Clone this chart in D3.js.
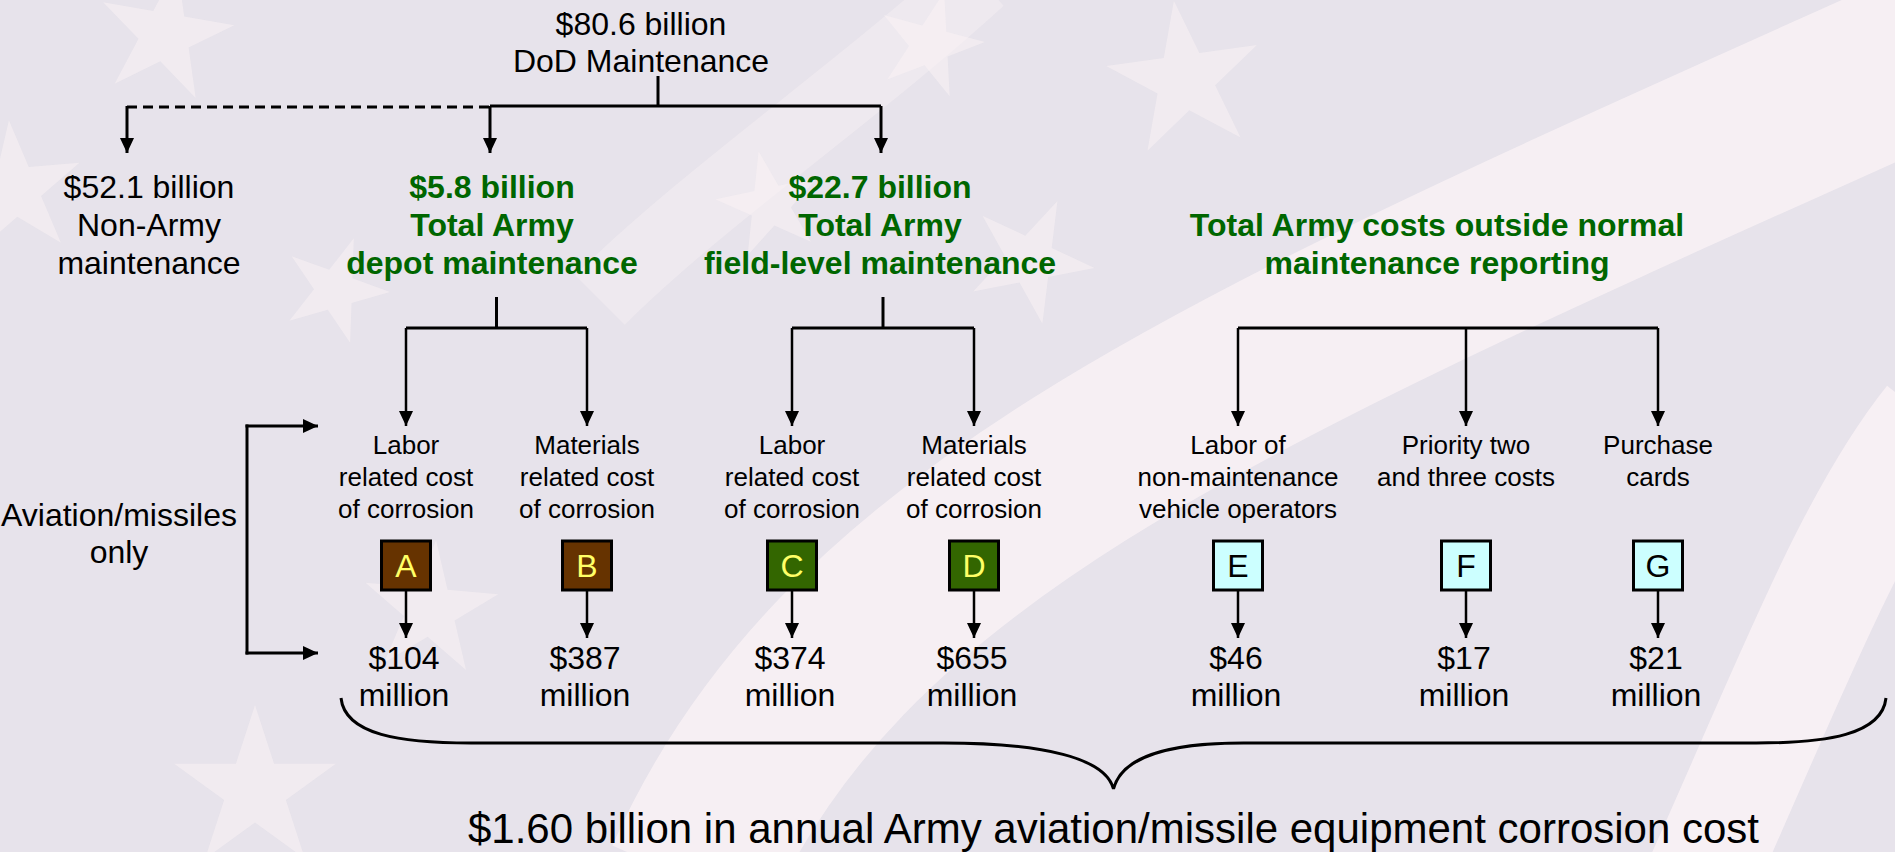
<!DOCTYPE html>
<html>
<head>
<meta charset="utf-8">
<script src="https://cdn.jsdelivr.net/npm/d3@7"></script>
<style>
  html, body { margin: 0; padding: 0; background: #e7e3eb; }
  svg { display: block; font-family: Arial, "Liberation Sans", sans-serif; }
</style>
</head>
<body>
<div id="chart"></div>
<script>
(function(){
  var width = 1895;
  var height = 852;

  // top of the tree
  var dodLines = ["$80.6 billion", "DoD Maintenance"];

  // first split
  var groupKeys = ["nonArmy", "depot", "field", "outside"];
  var groupLines = [
    ["$52.1 billion", "Non-Army", "maintenance"],
    ["$5.8 billion", "Total Army", "depot maintenance"],
    ["$22.7 billion", "Total Army", "field-level maintenance"],
    ["", "Total Army costs outside normal", "maintenance reporting"]
  ];

  // corrosion cost items
  var costCodes = ["A", "B", "C", "D", "E", "F", "G"];
  var costGroup = ["depot", "depot", "field", "field", "outside", "outside", "outside"];
  var costLabels = [
    ["Labor", "related cost", "of corrosion"],
    ["Materials", "related cost", "of corrosion"],
    ["Labor", "related cost", "of corrosion"],
    ["Materials", "related cost", "of corrosion"],
    ["Labor of", "non-maintenance", "vehicle operators"],
    ["Priority two", "and three costs"],
    ["Purchase", "cards"]
  ];
  var costMillions = [104, 387, 374, 655, 46, 17, 21];
  var sideNote = ["Aviation/missiles", "only"];

  var items = costCodes.map(function(c, i) {
    return {code: c, group: costGroup[i], label: costLabels[i], value: costMillions[i]};
  });

  // layout
  var xGroupArrow = d3.scaleOrdinal().domain(groupKeys).range([127, 490, 881, 1437]);
  var xGroupText = d3.scaleOrdinal().domain(groupKeys).range([149, 492, 880, 1437]);
  var xCost = d3.scaleOrdinal().domain(costCodes).range([406, 587, 792, 974, 1238, 1466, 1658]);
  var boxFill = d3.scaleOrdinal().domain(["depot", "field", "outside"]).range(["#663300", "#336600", "#ccffff"]);
  var boxInk = d3.scaleOrdinal().domain(["depot", "field", "outside"]).range(["#ffff66", "#ffff66", "#000000"]);
  var green = "#006600";

  var svg = d3.select("#chart")
    .append("svg")
    .attr("width", width)
    .attr("height", height);

  var defs = svg.append("defs");
  defs.append("marker")
    .attr("id", "arrow")
    .attr("viewBox", "0 0 15 14")
    .attr("refX", 15)
    .attr("refY", 7)
    .attr("markerWidth", 15)
    .attr("markerHeight", 14)
    .attr("markerUnits", "userSpaceOnUse")
    .attr("orient", "auto")
    .append("path")
    .attr("d", "M0,0L15,7L0,14Z")
    .attr("fill", "#000");

  // background: faded flag
  var bg = svg.append("g");
  bg.append("rect").attr("width", width).attr("height", height).attr("fill", "#e7e3eb");

  var band = function(pts, w, op) {
    var p = d3.path();
    p.moveTo(pts[0][0], pts[0][1]);
    p.bezierCurveTo(pts[1][0], pts[1][1], pts[2][0], pts[2][1], pts[3][0], pts[3][1]);
    bg.append("path").attr("d", p.toString())
      .attr("fill", "none")
      .attr("stroke", "#fbf3f6")
      .attr("stroke-width", w)
      .attr("opacity", op);
  };
  band([[690, 880], [850, 520], [1250, 360], [1960, 40]], 170, 0.75);
  band([[1700, 880], [1790, 680], [1850, 520], [1930, 420]], 110, 0.8);
  band([[600, 300], [700, 200], [860, 90], [980, -20]], 70, 0.4);

  var stars = [[165, 35, 70, 10], [15, 190, 70, -5], [335, 290, 55, 20], [430, 610, 70, 5],
               [255, 790, 85, 0], [1185, 80, 80, -8], [930, 45, 55, 15], [770, 205, 55, -12],
               [1030, 260, 65, 25]];
  bg.selectAll("path.star")
    .data(stars)
    .enter().append("path")
    .attr("class", "star")
    .attr("d", function(d) { return d3.symbol(d3.symbolStar, d[2] * d[2] / 0.8908)(); })
    .attr("transform", function(d) { return "translate(" + d[0] + "," + d[1] + ") rotate(" + d[3] + ")"; })
    .attr("fill", "#fbf3f6")
    .attr("opacity", 0.5);

  var ink = svg.append("g");

  var line = function(x1, y1, x2, y2, w, arrow, dash) {
    var l = ink.append("line")
      .attr("x1", x1).attr("y1", y1).attr("x2", x2).attr("y2", y2)
      .attr("stroke", "#000")
      .attr("stroke-width", w);
    if (arrow) l.attr("marker-end", "url(#arrow)");
    if (dash) l.attr("stroke-dasharray", dash);
    return l;
  };

  // DoD label
  ink.selectAll("text.dod")
    .data(dodLines)
    .enter().append("text")
    .attr("class", "dod")
    .attr("x", 641)
    .attr("y", function(d, i) { return 35 + i * 37; })
    .attr("text-anchor", "middle")
    .attr("font-size", 32)
    .attr("fill", "#000")
    .text(function(d) { return d; });

  // first split
  line(658, 76, 658, 106, 3);
  line(xGroupArrow("depot"), 106, xGroupArrow("field"), 106, 3);
  line(xGroupArrow("nonArmy"), 107, xGroupArrow("depot"), 107, 3, false, "10,6");
  ["nonArmy", "depot", "field"].forEach(function(k) {
    line(xGroupArrow(k), 106, xGroupArrow(k), 153, 3, true);
  });

  var groups = groupKeys.map(function(k, i) { return {key: k, lines: groupLines[i]}; });
  var gText = ink.selectAll("g.grp")
    .data(groups)
    .enter().append("g")
    .attr("class", "grp");
  gText.selectAll("text")
    .data(function(d) { return d.lines.map(function(t) { return {key: d.key, t: t}; }); })
    .enter().append("text")
    .attr("x", function(d) { return xGroupText(d.key); })
    .attr("y", function(d, i) { return 198 + i * 38; })
    .attr("text-anchor", "middle")
    .attr("font-size", 32)
    .attr("font-weight", function(d) { return d.key === "nonArmy" ? "normal" : "bold"; })
    .attr("fill", function(d) { return d.key === "nonArmy" ? "#000" : green; })
    .text(function(d) { return d.t; });

  // second split
  ["depot", "field", "outside"].forEach(function(k) {
    var xs = items.filter(function(d) { return d.group === k; }).map(function(d) { return xCost(d.code); });
    var x0 = d3.min(xs), x1 = d3.max(xs);
    if (k !== "outside") line(d3.mean([x0, x1]), 297, d3.mean([x0, x1]), 328, 3);
    line(x0, 328, x1, 328, 3);
    xs.forEach(function(x) { line(x, 328, x, 426, 2.5, true); });
  });

  // cost items
  var item = ink.selectAll("g.item")
    .data(items)
    .enter().append("g")
    .attr("class", "item")
    .attr("transform", function(d) { return "translate(" + xCost(d.code) + ",0)"; });

  item.selectAll("text.lab")
    .data(function(d) { return d.label; })
    .enter().append("text")
    .attr("class", "lab")
    .attr("x", 0)
    .attr("y", function(d, i) { return 454 + i * 32; })
    .attr("text-anchor", "middle")
    .attr("font-size", 26)
    .attr("fill", "#000")
    .text(function(d) { return d; });

  item.append("rect")
    .attr("x", -24.5)
    .attr("y", 541)
    .attr("width", 49)
    .attr("height", 49)
    .attr("fill", function(d) { return boxFill(d.group); })
    .attr("stroke", "#000")
    .attr("stroke-width", 3);

  item.append("text")
    .attr("x", 0)
    .attr("y", 577)
    .attr("text-anchor", "middle")
    .attr("font-size", 32)
    .attr("fill", function(d) { return boxInk(d.group); })
    .text(function(d) { return d.code; });

  item.append("line")
    .attr("x1", 0).attr("y1", 591).attr("x2", 0).attr("y2", 638)
    .attr("stroke", "#000")
    .attr("stroke-width", 2.5)
    .attr("marker-end", "url(#arrow)");

  item.selectAll("text.val")
    .data(function(d) { return ["$" + d.value, "million"]; })
    .enter().append("text")
    .attr("class", "val")
    .attr("x", -2)
    .attr("y", function(d, i) { return 669 + i * 37; })
    .attr("text-anchor", "middle")
    .attr("font-size", 32)
    .attr("fill", "#000")
    .text(function(d) { return d; });

  // aviation/missiles bracket
  ink.selectAll("text.side")
    .data(sideNote)
    .enter().append("text")
    .attr("class", "side")
    .attr("x", 119)
    .attr("y", function(d, i) { return 526 + i * 37; })
    .attr("text-anchor", "middle")
    .attr("font-size", 32)
    .attr("fill", "#000")
    .text(function(d) { return d; });
  line(247, 424.5, 247, 654.5, 3);
  line(245.5, 426, 318, 426, 3, true);
  line(245.5, 653, 318, 653, 3, true);

  // brace under all items
  var bx0 = xCost("A") - 65, bx1 = xCost("G") + 228, cx = (bx0 + bx1) / 2;
  var p = d3.path();
  p.moveTo(bx0, 698);
  p.bezierCurveTo(bx0 + 4, 735, bx0 + 60, 743, bx0 + 130, 743);
  p.lineTo(cx - 170, 743);
  p.bezierCurveTo(cx - 70, 743, cx - 8, 758, cx, 789);
  p.bezierCurveTo(cx + 8, 758, cx + 50, 743, cx + 130, 743);
  p.lineTo(bx1 - 130, 743);
  p.bezierCurveTo(bx1 - 60, 743, bx1 - 4, 735, bx1, 698);
  ink.append("path")
    .attr("d", p.toString())
    .attr("fill", "none")
    .attr("stroke", "#000")
    .attr("stroke-width", 3);

  var total = d3.sum(costMillions) / 1000;
  ink.append("text")
    .attr("x", cx)
    .attr("y", 843)
    .attr("text-anchor", "middle")
    .attr("font-size", 42)
    .attr("fill", "#000")
    .text("$" + d3.format(".2f")(total) + " billion in annual Army aviation/missile equipment corrosion cost");
})();
</script>
</body>
</html>
